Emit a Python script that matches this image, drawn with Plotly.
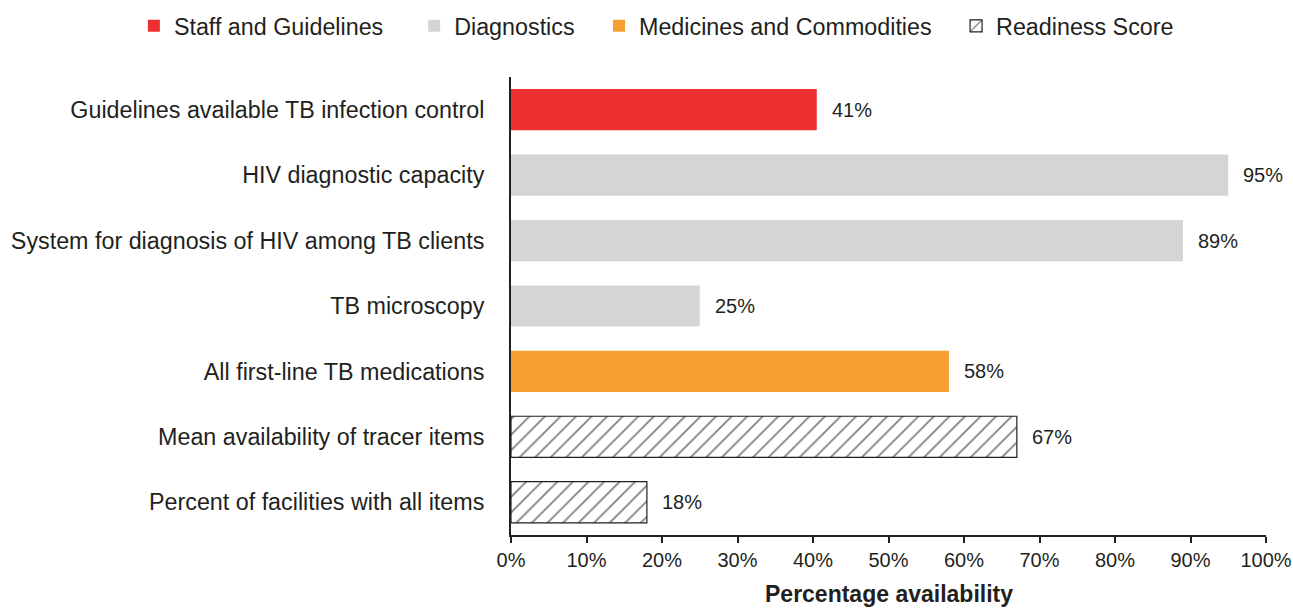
import plotly.graph_objects as go

categories = [
    "Guidelines available TB infection control",
    "HIV diagnostic capacity",
    "System for diagnosis of HIV among TB clients",
    "TB microscopy",
    "All first-line TB medications",
    "Mean availability of tracer items",
    "Percent of facilities with all items",
]
values = [40.5, 95, 89, 25, 58, 67, 18]
labels = ["41%", "95%", "89%", "25%", "58%", "67%", "18%"]
groups = ["Staff and Guidelines", "Diagnostics", "Diagnostics", "Diagnostics",
          "Medicines and Commodities", "Readiness Score", "Readiness Score"]
group_order = ["Staff and Guidelines", "Diagnostics", "Medicines and Commodities", "Readiness Score"]
group_colors = {
    "Staff and Guidelines": "#EE3030",
    "Diagnostics": "#D5D6D4",
    "Medicines and Commodities": "#F7A030",
    "Readiness Score": "#FFFFFF",
}
xticks = list(range(0, 101, 10))

FONT = "Liberation Sans, Arial, sans-serif"
TXT = "#231F20"
PADS = [4, 3, 3, 0]

fig = go.Figure()
for i, g in enumerate(group_order):
    ys = [c for c, gg in zip(categories, groups) if gg == g]
    xs = [v for v, gg in zip(values, groups) if gg == g]
    if g == "Readiness Score":
        marker = dict(
            color="#FFFFFF",
            line=dict(color=TXT, width=1.2),
            pattern=dict(shape="/", fgcolor="#000000", bgcolor="#FFFFFF", size=11, solidity=0.16),
        )
    else:
        marker = dict(color=group_colors[g], line=dict(width=0))
    name = g + "\u00a0" * PADS[i]
    fig.add_trace(go.Bar(
        y=ys, x=xs, orientation="h", name=name, marker=marker, width=0.63,
        hoverinfo="x+y",
    ))

for c, v, t in zip(categories, values, labels):
    fig.add_annotation(x=v, y=c, text=t, showarrow=False, xanchor="left",
                       xshift=13, font=dict(size=20, color=TXT, family=FONT))

fig.add_annotation(x=0.5, y=-0.129, xref="paper", yref="paper", text="<b>Percentage availability</b>",
                   showarrow=False, xanchor="center", yanchor="middle",
                   font=dict(size=23, color=TXT, family=FONT))

fig.update_layout(
    width=1293, height=608,
    paper_bgcolor="white", plot_bgcolor="white",
    margin=dict(l=511, r=27, t=77, b=73, autoexpand=False),
    barmode="overlay",
    font=dict(family=FONT, size=20, color=TXT),
    legend=dict(orientation="h", x=-0.4995, xanchor="left", y=1.111, yanchor="middle",
                font=dict(size=23.3, color=TXT), traceorder="normal",
                bgcolor="rgba(0,0,0,0)"),
    showlegend=True,
)

fig.update_xaxes(
    range=[0, 100], tickvals=xticks, ticktext=[f"{t}%" for t in xticks],
    showgrid=False, zeroline=False, showline=True, linecolor=TXT, linewidth=2,
    ticks="outside", ticklen=6, tickwidth=1.5, tickcolor=TXT,
    tickfont=dict(size=20, color=TXT), automargin=False,
    fixedrange=True,
)
fig.update_yaxes(
    categoryorder="array", categoryarray=categories, autorange="reversed",
    showgrid=False, zeroline=False, showline=True, linecolor=TXT, linewidth=2,
    ticks="outside", ticklen=20, tickcolor="rgba(0,0,0,0)",
    tickfont=dict(size=23.3, color=TXT), automargin=False, fixedrange=True,
)

fig.write_html("out.html", config={"displayModeBar": False},
               post_script="document.body.style.margin='0';document.body.style.overflow='hidden';")
